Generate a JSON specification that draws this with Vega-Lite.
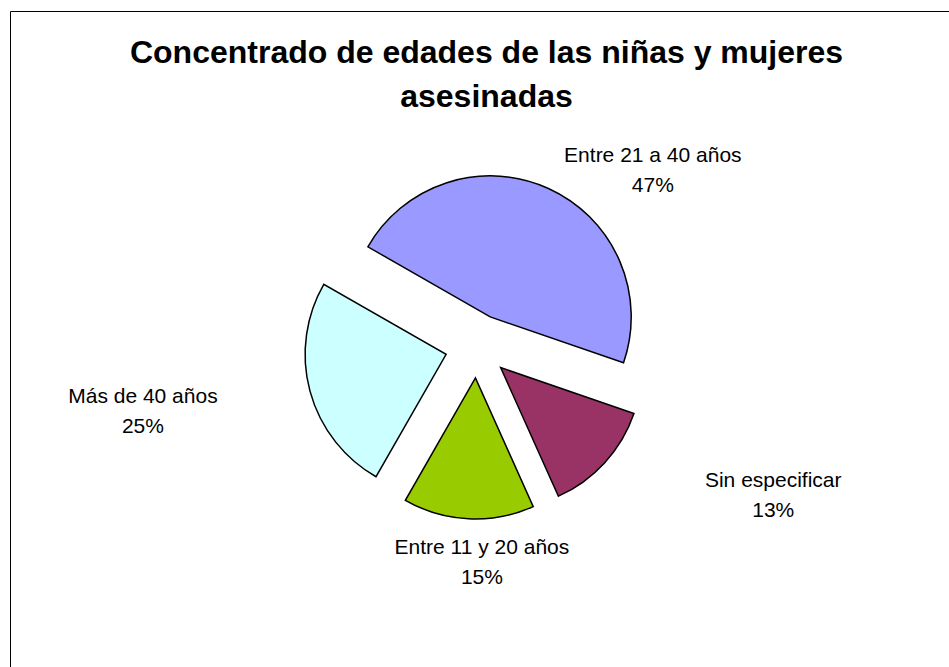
{
  "$schema": "https://vega.github.io/schema/vega-lite/v6.json",
  "autosize": {"type": "none"},
  "padding": {"left": 10, "top": 11, "right": 0, "bottom": 0},
  "width": 939,
  "height": 656,
  "background": "white",
  "config": {
    "view": {"stroke": "#000000", "strokeWidth": 1},
    "font": "Liberation Sans"
  },
  "title": {
    "text": ["Concentrado de edades de las niñas y mujeres", "asesinadas"],
    "font": "Liberation Sans",
    "fontSize": 32,
    "fontWeight": "bold",
    "color": "#000000",
    "anchor": "middle",
    "lineHeight": 44,
    "baseline": "alphabetic",
    "offset": -128,
    "dx": 7
  },
  "data": {
    "values": [
      {"category": "Entre 21 a 40 años", "value": 47, "order": 1},
      {"category": "Sin especificar", "value": 13, "order": 2},
      {"category": "Entre 11 y 20 años", "value": 15, "order": 3},
      {"category": "Más de 40 años", "value": 25, "order": 4}
    ]
  },
  "transform": [
    {"joinaggregate": [{"op": "sum", "field": "value", "as": "total"}]},
    {"window": [{"op": "sum", "field": "value", "as": "cum"}], "sort": [{"field": "order", "order": "ascending"}], "frame": [null, 0]},
    {"calculate": "-1.0507 + 2 * PI * (datum.cum - datum.value / 2) / datum.total", "as": "mid"},
    {"calculate": "32 * sin(datum.mid)", "as": "ex"},
    {"calculate": "32 * cos(datum.mid)", "as": "ey"},
    {"calculate": "23 + 370 * sin(datum.mid)", "as": "lx"},
    {"calculate": "3 + 205 * cos(datum.mid)", "as": "ly"},
    {"calculate": "datum.category + '\\n' + datum.value + '%'", "as": "label"}
  ],
  "layer": [
    {
      "mark": {"type": "arc", "outerRadius": 141, "stroke": "#000000", "strokeWidth": 1.5},
      "encoding": {
        "theta": {"field": "value", "type": "quantitative", "stack": true, "scale": {"range": [-1.0507, 5.2325]}},
        "order": {"field": "order", "type": "quantitative"},
        "x": {"field": "ex", "type": "quantitative", "axis": null, "scale": {"domain": [-467, 472], "nice": false, "zero": false}},
        "y": {"field": "ey", "type": "quantitative", "axis": null, "scale": {"domain": [-321, 335], "nice": false, "zero": false}},
        "color": {
          "field": "category", "type": "nominal", "legend": null,
          "scale": {
            "domain": ["Entre 21 a 40 años", "Sin especificar", "Entre 11 y 20 años", "Más de 40 años"],
            "range": ["#9999FF", "#993366", "#99CC00", "#CCFFFF"]
          }
        }
      }
    },
    {
      "mark": {"type": "text", "font": "Liberation Sans", "fontSize": 21, "lineHeight": 30, "lineBreak": "\n", "align": "center", "baseline": "middle", "color": "#000000"},
      "encoding": {
        "x": {"field": "lx", "type": "quantitative"},
        "y": {"field": "ly", "type": "quantitative"},
        "text": {"field": "label", "type": "nominal"}
      }
    }
  ]
}
